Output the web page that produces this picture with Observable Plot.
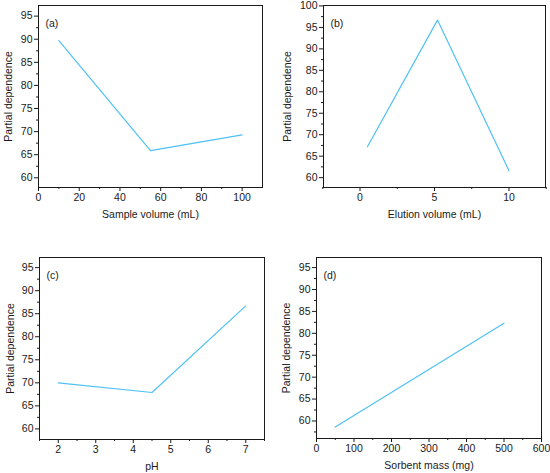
<!DOCTYPE html>
<html>
<head>
<meta charset="utf-8">
<script src="https://cdn.jsdelivr.net/npm/d3@7"></script>
<script src="https://cdn.jsdelivr.net/npm/@observablehq/plot@0.6"></script>
<style>
  html, body { margin: 0; padding: 0; background: #fff; }
  #wrap { position: relative; width: 550px; height: 473px; font-family: "Liberation Sans", Arial, sans-serif; }
  .panel { position: absolute; }
  .panel svg { overflow: visible; }
</style>
</head>
<body>
<div id="wrap"></div>
<script>
// Panel (a)
const sampleVolume = [10, 55, 100];
const pdSample = [89.7, 65.9, 69.3];
// Panel (b)
const elutionVolume = [0.5, 5.2, 10];
const pdElution = [67.2, 96.7, 61.6];
// Panel (c)
const pH = [2, 4.5, 7];
const pdPH = [70.0, 67.9, 86.7];
// Panel (d)
const sorbentMass = [50, 500];
const pdSorbent = [58.6, 82.3];

// Tick labels
const xTicksA = [0, 20, 40, 60, 80, 100];
const xMinorA = [10, 30, 50, 70, 90];
const yTicksA = [60, 65, 70, 75, 80, 85, 90, 95];
const yMinorA = [62.5, 67.5, 72.5, 77.5, 82.5, 87.5, 92.5];

const xTicksB = [0, 5, 10];
const xMinorB = [-2.5, 2.5, 7.5, 12.5];
const yTicksB = [60, 65, 70, 75, 80, 85, 90, 95, 100];
const yMinorB = [62.5, 67.5, 72.5, 77.5, 82.5, 87.5, 92.5, 97.5];

const xTicksC = [2, 3, 4, 5, 6, 7];
const xMinorC = [1.5, 2.5, 3.5, 4.5, 5.5, 6.5, 7.5];
const yTicksC = yTicksA;
const yMinorC = yMinorA;

const xTicksD = [0, 100, 200, 300, 400, 500, 600];
const xMinorD = [50, 150, 250, 350, 450, 550];
const yTicksD = yTicksA;
const yMinorD = [57.5, ...yMinorA];

const panels = [
  {tag: "(a)", xs: sampleVolume, ys: pdSample, xlabel: "Sample volume (mL)",
   xd: [0, 110], yd: [57.9, 97.3], xt: xTicksA, xm: xMinorA, yt: yTicksA, ym: yMinorA,
   left: 0, top: 0, w: 275, h: 230, ml: 38, mr: 13, mt: 5, mb: 43, ylo: 34},
  {tag: "(b)", xs: elutionVolume, ys: pdElution, xlabel: "Elution volume (mL)",
   xd: [-2.45, 12.45], yd: [57.7, 100.1], xt: xTicksB, xm: xMinorB, yt: yTicksB, ym: yMinorB,
   left: 275, top: 0, w: 275, h: 230, ml: 48, mr: 5, mt: 5, mb: 43, ylo: 40},
  {tag: "(c)", xs: pH, ys: pdPH, xlabel: "pH",
   xd: [1.5, 7.5], yd: [57.7, 97.2], xt: xTicksC, xm: xMinorC, yt: yTicksC, ym: yMinorC,
   left: 0, top: 235, w: 275, h: 238, ml: 39, mr: 11, mt: 22, mb: 34, ylo: 33},
  {tag: "(d)", xs: sorbentMass, ys: pdSorbent, xlabel: "Sorbent mass (mg)",
   xd: [0, 600], yd: [56.0, 97.3], xt: xTicksD, xm: xMinorD, yt: yTicksD, ym: yMinorD,
   left: 275, top: 235, w: 275, h: 238, ml: 41, mr: 9, mt: 22, mb: 35, ylo: 34}
];

const wrap = document.getElementById("wrap");
for (const p of panels) {
  const data = p.xs.map((x, i) => ({x, y: p.ys[i]}));
  const svg = Plot.plot({
    width: p.w, height: p.h,
    marginLeft: p.ml, marginRight: p.mr, marginTop: p.mt, marginBottom: p.mb,
    style: {fontFamily: '"Liberation Sans", Arial, sans-serif', fontSize: "10px", color: "#1a1a1a", background: "transparent"},
    x: {domain: p.xd},
    y: {domain: p.yd},
    marks: [
      Plot.axisX(p.xm, {tickSize: 2, tickFormat: () => "", label: null}),
      Plot.axisY(p.ym, {tickSize: 2, tickFormat: () => "", label: null}),
      Plot.axisX(p.xt, {tickSize: 4, tickPadding: 2, fontSize: 10.5, label: p.xlabel, labelAnchor: "center", labelOffset: 30, labelArrow: "none"}),
      Plot.axisY(p.yt, {tickSize: 4, tickPadding: 2, fontSize: 10.5, label: "Partial dependence", labelAnchor: "center", labelOffset: p.ylo, labelArrow: "none"}),
      Plot.frame({stroke: "#1a1a1a", strokeWidth: 1}),
      Plot.line(data, {x: "x", y: "y", stroke: "#4fc1f5", strokeWidth: 1.2}),
      Plot.text([p.tag], {frameAnchor: "top-left", dx: 7, dy: 14, fontSize: 10.5, fill: "#1a1a1a"})
    ]
  });
  const div = document.createElement("div");
  div.className = "panel";
  div.style.left = p.left + "px";
  div.style.top = p.top + "px";
  div.appendChild(svg);
  wrap.appendChild(div);
}
</script>
</body>
</html>
